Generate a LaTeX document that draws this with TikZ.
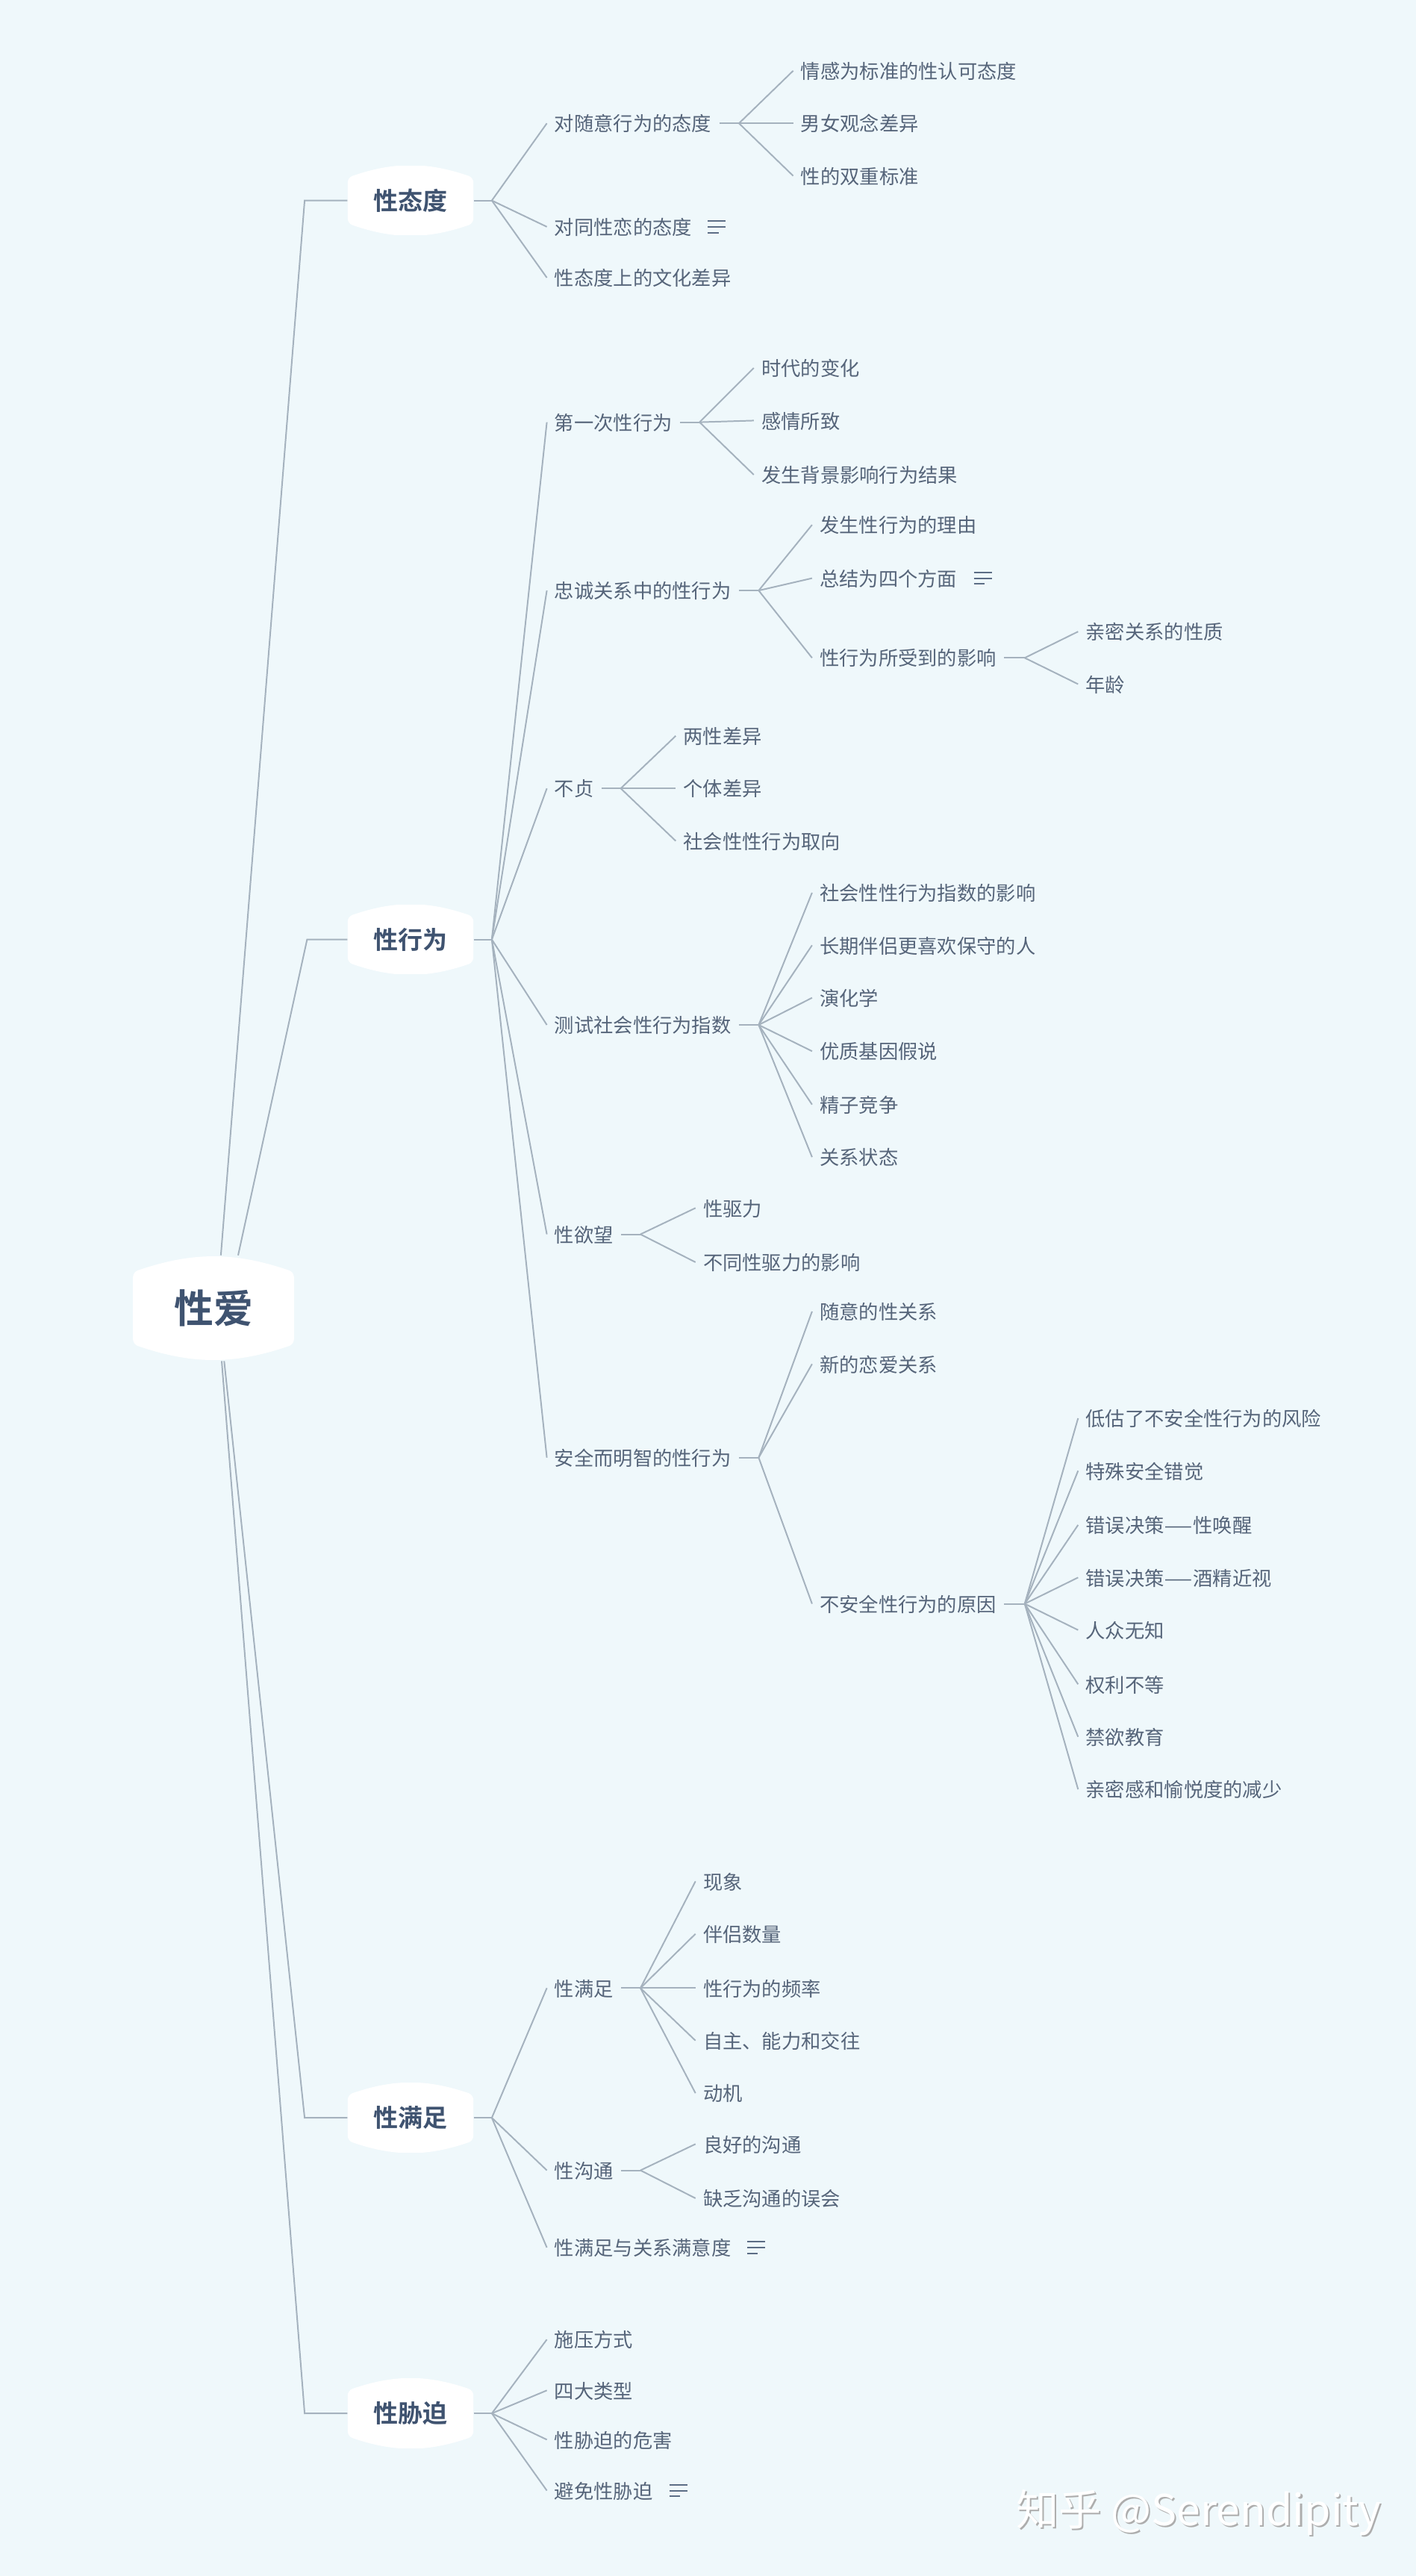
\documentclass[tikz,border=0pt]{standalone}
\usepackage{fontspec}
\setmainfont{Noto Sans CJK SC}[BoldFont={Noto Sans CJK SC Bold}]
\definecolor{paper}{HTML}{EFF8FB}
\definecolor{ink}{HTML}{56657A}
\definecolor{deepink}{HTML}{3F5370}
\definecolor{linkgray}{HTML}{A5B2BE}
\tikzset{
	sag/.store in=\blobsag,sag=7pt,
	leaf/.style={anchor=west,inner xsep=4.5pt,inner ysep=0pt,text=ink,text height=11.2pt,text depth=1.5pt,font=\fontsize{11.95}{14}\selectfont},
	blob/.style={inner sep=0pt,text=deepink,font=\bfseries\fontsize{15}{18}\selectfont,minimum width=76.5pt,minimum height=42pt,
		path picture={\fill[white,rounded corners=3pt] ([yshift=-\blobsag]path picture bounding box.north west) to[bend left=19] ([yshift=-\blobsag]path picture bounding box.north east) -- ([yshift=\blobsag]path picture bounding box.south east) to[bend left=19] ([yshift=\blobsag]path picture bounding box.south west) -- cycle;}},
	link/.style={draw=linkgray,line width=0.9pt},
	notes/.pic={
		\draw[deepink!85,line width=0.9pt] (0,-3.5) -- (11,-3.5) (0,0) -- (11,0) (0,3.5) -- (6.5,3.5);
	}
}
% parent, x of the hub, list of children
\newcommand{\fanout}[3]{
	\coordinate (#1hub) at (#2,0 |- #1.east);
	\draw[link] (#1.east) -- (#1hub);
	\foreach \k in {#3} \draw[link] (#1hub) -- (\k.west);
}
\newcommand{\longdash}{\scalebox{1.65}[1]{—}}
\begin{document}
\begin{tikzpicture}[x=1pt,y=-1pt]
	\fill[paper] (0,0) rectangle (862.27,1568.64);
	\useasboundingbox (0,0) rectangle (862.27,1568.64);

	\begin{scope}[yshift=-0.6pt]
	% centre and the four topics
	\node (root) at (130,796) [blob,sag=10pt,minimum width=98pt,minimum height=64pt,font=\bfseries\fontsize{24}{28}\selectfont] {性爱};
	\node (attitude) at (250,121.5) [blob] {性态度};
	\node (behavior) at (250,571.5) [blob] {性行为};
	\node (satisfy) at (250,1289) [blob] {性满足};
	\node (coerce) at (250,1469) [blob] {性胁迫};

	\coordinate (hubA) at (185.5,121.5);
	\coordinate (hubB) at (187,571.5);
	\coordinate (hubC) at (185.5,1289);
	\coordinate (hubD) at (185.5,1469);
	\draw[link] ([xshift=4.5pt]root.north) -- (hubA) -- (attitude.west);
	\draw[link] ([xshift=15pt]root.north) -- (hubB) -- (behavior.west);
	\draw[link] ([xshift=6.5pt]root.south) -- (hubC) -- (satisfy.west);
	\draw[link] ([xshift=5pt]root.south) -- (hubD) -- (coerce.west);

	% attitude
	\node (casual) at (333,74.5) [leaf] {对随意行为的态度};
	\node (gay) at (333,137.5) [leaf] {对同性恋的态度};
	\node (culture) at (333,168.5) [leaf] {性态度上的文化差异};
	\fanout{attitude}{299.5}{casual,gay,culture}
	\pic at (431,137.5) {notes};
	\node (emotion) at (483,42.5) [leaf] {情感为标准的性认可态度};
	\node (gender) at (483,74.5) [leaf] {男女观念差异};
	\node (double) at (483,106.5) [leaf] {性的双重标准};
	\fanout{casual}{450}{emotion,gender,double}

	% behavior
	\node (first) at (333,256.5) [leaf] {第一次性行为};
	\node (faithful) at (333,359) [leaf] {忠诚关系中的性行为};
	\node (unfaithful) at (333,479.5) [leaf] {不贞};
	\node (index) at (333,623.5) [leaf] {测试社会性行为指数};
	\node (desire) at (333,751) [leaf] {性欲望};
	\node (safe) at (333,887) [leaf] {安全而明智的性行为};
	\fanout{behavior}{299.5}{first,faithful,unfaithful,index,desire,safe}

	\node (era) at (459,223.5) [leaf] {时代的变化};
	\node (feeling) at (459,255.5) [leaf] {感情所致};
	\node (setting) at (459,288.5) [leaf] {发生背景影响行为结果};
	\fanout{first}{426}{era,feeling,setting}

	\node (reason) at (494.5,319) [leaf] {发生性行为的理由};
	\node (four) at (494.5,351.5) [leaf] {总结为四个方面};
	\node (affect) at (494.5,400) [leaf] {性行为所受到的影响};
	\fanout{faithful}{462}{reason,four,affect}
	\pic at (593,351.5) {notes};
	\node (nature) at (656.5,384) [leaf] {亲密关系的性质};
	\node (age) at (656.5,416) [leaf] {年龄};
	\fanout{affect}{624}{nature,age}

	\node (sexdiff) at (411.5,447.5) [leaf] {两性差异};
	\node (person) at (411.5,479.5) [leaf] {个体差异};
	\node (orient) at (411.5,511.5) [leaf] {社会性性行为取向};
	\fanout{unfaithful}{378}{sexdiff,person,orient}

	\node (soi) at (494.5,543) [leaf] {社会性性行为指数的影响};
	\node (longterm) at (494.5,575) [leaf] {长期伴侣更喜欢保守的人};
	\node (evolve) at (494.5,607) [leaf] {演化学};
	\node (gene) at (494.5,639.5) [leaf] {优质基因假说};
	\node (sperm) at (494.5,672) [leaf] {精子竞争};
	\node (status) at (494.5,704) [leaf] {关系状态};
	\fanout{index}{462}{soi,longterm,evolve,gene,sperm,status}

	\node (drive) at (423.5,735) [leaf] {性驱力};
	\node (drivediff) at (423.5,768) [leaf] {不同性驱力的影响};
	\fanout{desire}{390}{drive,drivediff}

	\node (hookup) at (494.5,798) [leaf] {随意的性关系};
	\node (newlove) at (494.5,830) [leaf] {新的恋爱关系};
	\node (unsafe) at (494.5,976) [leaf] {不安全性行为的原因};
	\fanout{safe}{462}{hookup,newlove,unsafe}
	\node (risk) at (656.5,863) [leaf] {低估了不安全性行为的风险};
	\node (illusion) at (656.5,895) [leaf] {特殊安全错觉};
	\node (arousal) at (656.5,928) [leaf] {错误决策\longdash 性唤醒};
	\node (myopia) at (656.5,960) [leaf] {错误决策\longdash 酒精近视};
	\node (ignorance) at (656.5,992) [leaf] {人众无知};
	\node (power) at (656.5,1025) [leaf] {权利不等};
	\node (abstain) at (656.5,1057) [leaf] {禁欲教育};
	\node (intimacy) at (656.5,1089) [leaf] {亲密感和愉悦度的减少};
	\fanout{unsafe}{624}{risk,illusion,arousal,myopia,ignorance,power,abstain,intimacy}

	% satisfaction
	\node (sat) at (333,1210) [leaf] {性满足};
	\node (talk) at (333,1321) [leaf] {性沟通};
	\node (relation) at (333,1368) [leaf] {性满足与关系满意度};
	\fanout{satisfy}{299.5}{sat,talk,relation}
	\pic at (455,1368) {notes};
	\node (appear) at (423.5,1145) [leaf] {现象};
	\node (partners) at (423.5,1177) [leaf] {伴侣数量};
	\node (freq) at (423.5,1210) [leaf] {性行为的频率};
	\node (auto) at (423.5,1242) [leaf] {自主、能力和交往};
	\node (motive) at (423.5,1274) [leaf] {动机};
	\fanout{sat}{390}{appear,partners,freq,auto,motive}
	\node (goodtalk) at (423.5,1305) [leaf] {良好的沟通};
	\node (badtalk) at (423.5,1338) [leaf] {缺乏沟通的误会};
	\fanout{talk}{390}{goodtalk,badtalk}

	% coercion
	\node (press) at (333,1424) [leaf] {施压方式};
	\node (types) at (333,1455) [leaf] {四大类型};
	\node (harm) at (333,1485) [leaf] {性胁迫的危害};
	\node (avoid) at (333,1516) [leaf] {避免性胁迫};
	\fanout{coerce}{299.5}{press,types,harm,avoid}
	\pic at (407.5,1516) {notes};
	\end{scope}

	% mark in the corner
	\node (markshade) at (730.8,1531) [font=\fontsize{26}{30}\selectfont,text=black!32] {知乎 @Serendipity};
	\node (marktext) at (729.8,1530) [font=\fontsize{26}{30}\selectfont,text=white] {知乎 @Serendipity};
\end{tikzpicture}
\end{document}
